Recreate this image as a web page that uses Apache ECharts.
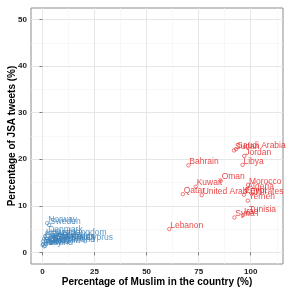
<!DOCTYPE html>
<html><head><meta charset="utf-8">
<script src="https://cdn.jsdelivr.net/npm/echarts@6/dist/echarts.min.js"></script>
<style>html,body{margin:0;padding:0;background:#fff}#c{width:291px;height:291px}</style>
</head><body><div id="c"></div>
<script>
const arabCountries = ['Saudi Arabia','Sudan','Jordan','Libya','Bahrain','Oman','Kuwait','Qatar','United Arab Emirates','Morocco','Algeria','Egypt','Yemen','Tunisia','Iraq','Syria','Lebanon'];
const arabMuslim    = [93.0, 92.0, 96.9, 96.1, 70.1, 85.6, 73.6, 67.4, 76.5, 98.7, 98.0, 96.8, 98.6, 98.7, 96.3, 92.2, 60.9];
const arabJSA       = [22.2, 21.9, 20.7, 18.8, 18.7, 15.4, 14.1, 12.5, 12.3, 14.5, 13.4, 12.4, 11.1, 8.4, 8.0, 7.5, 5.0];

const otherCountries = ['Norway','Sweden','Denmark','United Kingdom','Austria','Germany','Canada','France','Netherlands','United States','Belgium','Switzerland','Spain','Australia','Ireland','Italy','Finland','Cyprus'];
const otherMuslim    = [2.3, 3.2, 2.3, 1.3, 5.1, 3.7, 0.8, 6.1, 2.7, 0.3, 4.7, 3.7, 0.3, 1.8, 0.1, 1.3, 0.8, 20.5];
const otherJSA       = [6.3, 5.9, 4.2, 3.5, 3.5, 3.1, 2.9, 2.6, 2.6, 2.4, 2.2, 2.0, 1.8, 1.8, 1.6, 1.4, 1.3, 2.4];

const xMajor = [0, 25, 50, 75, 100];
const xMinor = [-12.5, 12.5, 37.5, 62.5, 87.5, 112.5];
const yMajor = [0, 10, 20, 30, 40, 50];
const yMinor = [5, 15, 25, 35, 45];

const RED = '#E41A1C', BLUE = '#377EB8';
const FONT = 'Liberation Sans, Arial, sans-serif';

function pts(names, xs, ys){ return names.map((n,i)=>({name:n, value:[xs[i], ys[i]]})); }

const chart = echarts.init(document.getElementById('c'), null, {renderer:'canvas'});
const labelCfg = (color)=>({show:true, formatter:'{b}', position:[3,3], align:'left', verticalAlign:'bottom', color:color, fontSize:8.5, fontFamily:FONT});
chart.setOption({
  animation:false,
  backgroundColor:'#fff',
  grid:{left:31, right:8, top:8, bottom:27, outerBoundsMode:'none', containLabel:false, show:true, borderColor:'#8c8c8c', borderWidth:1, backgroundColor:'#fff'},
  xAxis:[
    {type:'value', min:-5.5, max:115.5, position:'bottom',
     name:'Percentage of Muslim in the country (%)', nameLocation:'middle', nameGap:13, nameMoveOverlap:false,
     nameTextStyle:{fontSize:10, fontWeight:'bold', color:'#000', fontFamily:FONT},
     axisLine:{show:false},
     axisTick:{show:true, customValues:xMajor, length:3, lineStyle:{color:'#7f7f7f'}},
     axisLabel:{customValues:xMajor, fontSize:8, fontWeight:'bold', color:'#222', margin:4, fontFamily:FONT},
     splitLine:{show:true, lineStyle:{color:'#e6e6e6', width:1}}},
    {type:'value', min:-5.5, max:115.5, position:'top', show:true,
     axisLine:{show:false}, axisLabel:{show:false},
     axisTick:{show:false, customValues:xMinor},
     splitLine:{show:true, lineStyle:{color:'#f4f4f4', width:0.6}}}
  ],
  yAxis:[
    {type:'value', min:-2.5, max:52.5,
     name:'Percentage of JSA tweets (%)', nameLocation:'middle', nameGap:14, nameMoveOverlap:false,
     nameTextStyle:{fontSize:10, fontWeight:'bold', color:'#000', fontFamily:FONT},
     axisLine:{show:false},
     axisTick:{show:true, customValues:yMajor, length:3, lineStyle:{color:'#7f7f7f'}},
     axisLabel:{customValues:yMajor, fontSize:8, fontWeight:'bold', color:'#222', margin:4, fontFamily:FONT},
     splitLine:{show:true, lineStyle:{color:'#e6e6e6', width:1}}},
    {type:'value', min:-2.5, max:52.5, position:'right', show:true,
     axisLine:{show:false}, axisLabel:{show:false},
     axisTick:{show:false, customValues:yMinor},
     splitLine:{show:true, lineStyle:{color:'#f4f4f4', width:0.6}}}
  ],
  series:[
    {type:'scatter', xAxisIndex:0, yAxisIndex:0, data:pts(otherCountries, otherMuslim, otherJSA),
     symbol:'circle', symbolSize:3.5, itemStyle:{color:'rgba(0,0,0,0)', borderColor:BLUE, borderWidth:0.7},
     label:labelCfg(BLUE), labelLayout:{hideOverlap:false}},
    {type:'scatter', xAxisIndex:0, yAxisIndex:0, data:pts(arabCountries, arabMuslim, arabJSA),
     symbol:'circle', symbolSize:3.5, itemStyle:{color:'rgba(0,0,0,0)', borderColor:RED, borderWidth:0.7},
     label:labelCfg(RED), labelLayout:{hideOverlap:false}}
  ]
});
</script></body></html>
